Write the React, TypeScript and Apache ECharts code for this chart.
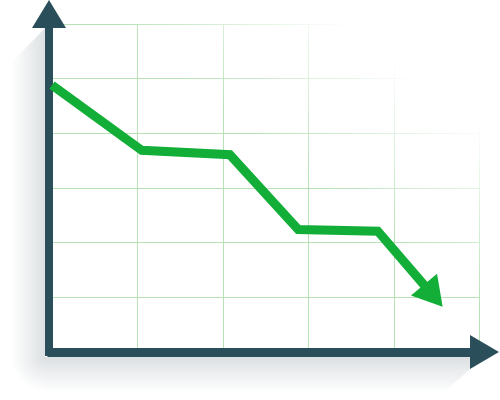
import { useRef, useEffect } from 'react'
import * as echarts from 'echarts'

// values (grid: 5 columns x 6 rows)
const xValues = [0, 1.05, 2.08, 2.88, 3.81, 4.46]
const yValues = [4.88, 3.69, 3.61, 2.24, 2.21, 1.03]
const xRange = [0, 5]
const yRange = [0, 6]

const AXIS = '#2a4f5b'
const GREEN = '#12ae38'
const GRID = '#b6e2b6'
const SHADOW = 'rgba(140,152,160,0.3)'
const SHADOW_0 = 'rgba(140,152,160,0)'

export default function App() {
  const chartRef = useRef<HTMLDivElement>(null)

  useEffect(() => {
    if (!chartRef.current) return
    const chart = echarts.init(chartRef.current, undefined, { renderer: 'svg' })

    const points = xValues.map((x, i) => {
      const last = i === xValues.length - 1
      return last
        ? { value: [x, yValues[i]], symbol: 'triangle', symbolSize: [34, 29], symbolRotate: -140 }
        : { value: [x, yValues[i]], symbol: 'none' }
    })

    chart.setOption({
      animation: false,
      backgroundColor: '#fff',
      grid: { left: 52, top: 24, right: 20.5, bottom: 48, outerBoundsMode: 'none' },
      xAxis: {
        type: 'value',
        min: xRange[0],
        max: xRange[1],
        interval: 1,
        axisLine: {
          onZero: false,
          symbol: ['none', 'triangle'],
          symbolSize: [34, 29],
          symbolOffset: [0, 5],
          lineStyle: { color: AXIS, width: 9, cap: 'square' },
        },
        axisTick: { show: false },
        axisLabel: { show: false },
        splitLine: { show: true, lineStyle: { color: GRID, width: 1 } },
      },
      yAxis: {
        type: 'value',
        min: yRange[0],
        max: yRange[1],
        interval: 1,
        offset: 3,
        axisLine: {
          show: true,
          onZero: false,
          symbol: ['none', 'triangle'],
          symbolSize: [34, 28],
          symbolOffset: [0, 10],
          lineStyle: { color: AXIS, width: 8, cap: 'square' },
        },
        axisTick: { show: false },
        axisLabel: { show: false },
        splitLine: { show: true, lineStyle: { color: GRID, width: 1 } },
      },
      graphic: [
        // fade of the grid toward the top-right corner
        {
          type: 'rect', z: 1, silent: true,
          shape: { x: 54, y: 10, width: 440, height: 334 },
          style: {
            fill: new echarts.graphic.LinearGradient(285, 160, 375, 42, [
              { offset: 0, color: 'rgba(255,255,255,0)' },
              { offset: 1, color: 'rgba(255,255,255,1)' },
            ], true),
          },
        },
        // soft shadow left of the y axis
        {
          type: 'polygon', z: 0, silent: true,
          shape: { points: [[45, 28], [45, 357], [12, 357], [12, 62]] },
          style: {
            fill: new echarts.graphic.LinearGradient(45, 0, 12, 0, [
              { offset: 0, color: SHADOW },
              { offset: 1, color: SHADOW_0 },
            ], true),
          },
        },
        // corner where the two shadows meet
        {
          type: 'rect', z: 0, silent: true,
          shape: { x: 12, y: 357, width: 33, height: 36 },
          style: {
            fill: new echarts.graphic.RadialGradient(45, 357, 34, [
              { offset: 0, color: SHADOW },
              { offset: 1, color: SHADOW_0 },
            ], true),
          },
        },
        // soft shadow under the x axis
        {
          type: 'polygon', z: 0, silent: true,
          shape: { points: [[45, 357], [470, 357], [470, 369], [438, 398], [45, 398]] },
          style: {
            fill: new echarts.graphic.LinearGradient(0, 357, 0, 393, [
              { offset: 0, color: SHADOW },
              { offset: 1, color: SHADOW_0 },
            ], true),
          },
        },
      ],
      series: [
        {
          type: 'line',
          data: points,
          z: 3,
          itemStyle: { color: GREEN },
          lineStyle: { color: GREEN, width: 9, join: 'miter' },
          silent: true,
        },
      ],
    })

    return () => chart.dispose()
  }, [])

  return <div ref={chartRef} style={{ position: 'absolute', left: 0, top: 0, width: 500, height: 400 }} />
}
